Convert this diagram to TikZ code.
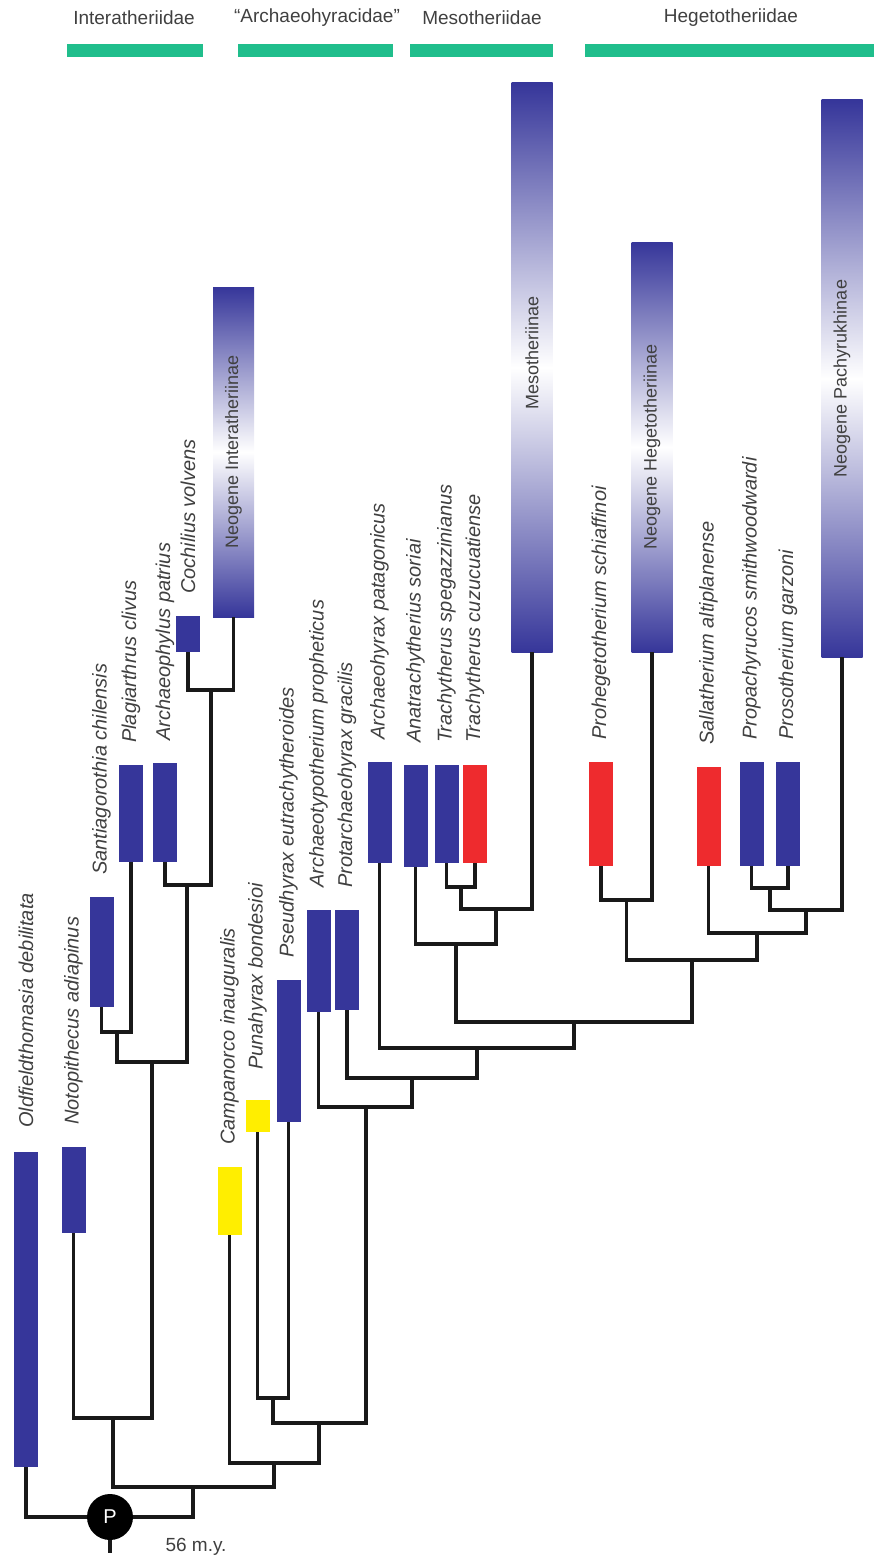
\documentclass[tikz,border=0pt]{standalone}
\usepackage{fontspec}
\setmainfont{Liberation Sans}
\usepackage{tikz}
\definecolor{taxBlue}{HTML}{36369A}
\definecolor{taxRed}{HTML}{EE2B2E}
\definecolor{taxYellow}{HTML}{FFEE00}
\definecolor{famGreen}{HTML}{20BE8C}
\definecolor{labelGray}{HTML}{404040}

\begin{document}
\begin{tikzpicture}[x=1pt,y=-1pt,
  link/.style={draw=black!90,line width=3.2pt},
  sbar/.style={anchor=south,inner sep=0,outer sep=0,minimum width=24,fill=taxBlue},
  gbar/.style={anchor=south,inner sep=0,outer sep=0,minimum width=41,top color=taxBlue,bottom color=taxBlue,middle color=white},
  taxon/.style={rotate=90,anchor=west,inner sep=0,text=labelGray,font=\fontsize{20}{24}\selectfont\itshape},
  clade/.style={rotate=90,inner sep=0,text=labelGray,font=\fontsize{18}{22}\selectfont},
  fam/.style={text=labelGray,font=\fontsize{19}{23}\selectfont},
  famline/.style={anchor=north west,inner sep=0,outer sep=0,minimum height=13,fill=famGreen}]
\useasboundingbox (0,0) rectangle (874,1568);
% families
\node[fam] (interT) at (134,18) {Interatheriidae};
\node[fam] (archT) at (317,18) {``Archaeohyracidae''};
\node[fam] (mesoT) at (482,18) {Mesotheriidae};
\node[fam] (hegeT) at (731,18) {Hegetotheriidae};
\node[famline,minimum width=136] (interL) at (67,44) {};
\node[famline,minimum width=155] (archL) at (238,44) {};
\node[famline,minimum width=143] (mesoL) at (410,44) {};
\node[famline,minimum width=289] (hegeL) at (585,44) {};
% ranges
\node[sbar,minimum height=315] (oldf) at (26,1467) {};
\node[sbar,minimum height=86] (noto) at (73.5,1233) {};
\node[sbar,minimum height=110] (sant) at (101.5,1007) {};
\node[sbar,minimum height=97] (plag) at (131,862) {};
\node[sbar,minimum height=99] (arph) at (165,862) {};
\node[sbar,minimum height=36] (coch) at (188,652) {};
\node[gbar,minimum height=330] (neoI) at (233.5,617) {};
\node[sbar,fill=taxYellow,minimum height=68] (camp) at (229.5,1235) {};
\node[sbar,fill=taxYellow,minimum height=32] (puna) at (257.5,1132) {};
\node[sbar,minimum height=142] (pseu) at (288.5,1122) {};
\node[sbar,minimum height=102] (atyp) at (318.5,1012) {};
\node[sbar,minimum height=100] (prot) at (347,1010) {};
\node[sbar,minimum height=101] (ahyr) at (379.5,863) {};
\node[sbar,minimum height=102] (anat) at (415.5,867) {};
\node[sbar,minimum height=98] (tspe) at (446.5,863) {};
\node[sbar,fill=taxRed,minimum height=98] (tcuz) at (475,863) {};
\node[gbar,minimum height=569] (meso) at (532,652) {};
\node[sbar,fill=taxRed,minimum height=104] (proh) at (601,866) {};
\node[gbar,minimum height=410] (hege) at (652,652) {};
\node[sbar,fill=taxRed,minimum height=99] (sall) at (708.5,866) {};
\node[sbar,minimum height=104] (ppac) at (751.5,866) {};
\node[sbar,minimum height=104] (pros) at (788,866) {};
\node[gbar,minimum height=557] (pach) at (842,657) {};
% names
\node[taxon] (oldfT) at ([yshift=24pt]oldf.north) {Oldfieldthomasia debilitata};
\node[taxon] (notoT) at ([yshift=22pt]noto.north) {Notopithecus adiapinus};
\node[taxon] (santT) at ([yshift=22pt]sant.north) {Santiagorothia chilensis};
\node[taxon] (plagT) at ([yshift=22pt]plag.north) {Plagiarthrus clivus};
\node[taxon] (arphT) at ([yshift=22pt]arph.north) {Archaeophylus patrius};
\node[taxon] (cochT) at ([yshift=22pt]coch.north) {Cochilius volvens};
\node[taxon] (campT) at ([yshift=22pt]camp.north) {Campanorco inauguralis};
\node[taxon] (punaT) at ([yshift=30pt]puna.north) {Punahyrax bondesioi};
\node[taxon] (pseuT) at ([yshift=22pt]pseu.north) {Pseudhyrax eutrachytheroides};
\node[taxon] (atypT) at ([yshift=22pt]atyp.north) {Archaeotypotherium propheticus};
\node[taxon] (protT) at ([yshift=22pt]prot.north) {Protarchaeohyrax gracilis};
\node[taxon] (ahyrT) at ([yshift=22pt]ahyr.north) {Archaeohyrax patagonicus};
\node[taxon] (anatT) at ([yshift=22pt]anat.north) {Anatrachytherius soriai};
\node[taxon] (tspeT) at ([yshift=22pt]tspe.north) {Trachytherus spegazzinianus};
\node[taxon] (tcuzT) at ([yshift=22pt]tcuz.north) {Trachytherus cuzucuatiense};
\node[taxon] (prohT) at ([yshift=22pt]proh.north) {Prohegetotherium schiaffinoi};
\node[taxon] (sallT) at ([yshift=22pt]sall.north) {Sallatherium altiplanense};
\node[taxon] (ppacT) at ([yshift=22pt]ppac.north) {Propachyrucos smithwoodwardi};
\node[taxon] (prosT) at ([yshift=22pt]pros.north) {Prosotherium garzoni};
\node[clade] (neoIT) at (neoI) {Neogene Interatheriinae};
\node[clade] (mesoTT) at ([yshift=15pt]meso.center) {Mesotheriinae};
\node[clade] (hegeTT) at (hege) {Neogene Hegetotheriinae};
\node[clade] (pachT) at (pach) {Neogene Pachyrukhinae};
% tree
\coordinate (jCoch) at (211,690);
\coordinate (jArph) at (187,885);
\coordinate (jSant) at (117,1032);
\coordinate (jPlag) at (152,1062);
\coordinate (jInter) at (113,1418);
\coordinate (jTrach) at (461,887);
\coordinate (jMesoA) at (496,909);
\coordinate (jMeso) at (456,944);
\coordinate (jPropa) at (770,888);
\coordinate (jPachy) at (806,910);
\coordinate (jSalla) at (757,933);
\coordinate (jProh) at (626.5,900);
\coordinate (jHege) at (692,960);
\coordinate (jMH) at (574,1022);
\coordinate (jAhy) at (477,1048);
\coordinate (jPro) at (412,1078);
\coordinate (jAty) at (366,1107);
\coordinate (jPun) at (273,1398);
\coordinate (jPse) at (319,1423);
\coordinate (jCam) at (274,1463);
\coordinate (jTyp) at (193,1487);
\coordinate (tick) at (110,1553);
\node[circle,fill=black,minimum size=46,inner sep=0,text=white,font=\fontsize{20}{24}\selectfont] (root) at (110,1517) {P};
\node[text=labelGray,font=\fontsize{19}{23}\selectfont] (age) at (196,1547) {56 m.y.};
\draw[link] (coch.south) |- (jCoch) -| (neoI.south);
\draw[link] (arph.south) |- (jArph) -| (jCoch);
\draw[link] (sant.south) |- (jSant) -| (plag.south);
\draw[link] (jSant) |- (jPlag) -| (jArph);
\draw[link] (noto.south) |- (jInter) -| (jPlag);
\draw[link] (tspe.south) |- (jTrach) -| (tcuz.south);
\draw[link] (jTrach) |- (jMesoA) -| (meso.south);
\draw[link] (anat.south) |- (jMeso) -| (jMesoA);
\draw[link] (ppac.south) |- (jPropa) -| (pros.south);
\draw[link] (jPropa) |- (jPachy) -| (pach.south);
\draw[link] (sall.south) |- (jSalla) -| (jPachy);
\draw[link] (proh.south) |- (jProh) -| (hege.south);
\draw[link] (jProh) |- (jHege) -| (jSalla);
\draw[link] (jMeso) |- (jMH) -| (jHege);
\draw[link] (ahyr.south) |- (jAhy) -| (jMH);
\draw[link] (prot.south) |- (jPro) -| (jAhy);
\draw[link] (atyp.south) |- (jAty) -| (jPro);
\draw[link] (puna.south) |- (jPun) -| (pseu.south);
\draw[link] (jPun) |- (jPse) -| (jAty);
\draw[link] (camp.south) |- (jCam) -| (jPse);
\draw[link] (jInter) |- (jTyp) -| (jCam);
\draw[link] (oldf.south) |- (root);
\draw[link] (root) -| (jTyp);
\draw[link] (root) -- (tick);
\end{tikzpicture}
\end{document}
